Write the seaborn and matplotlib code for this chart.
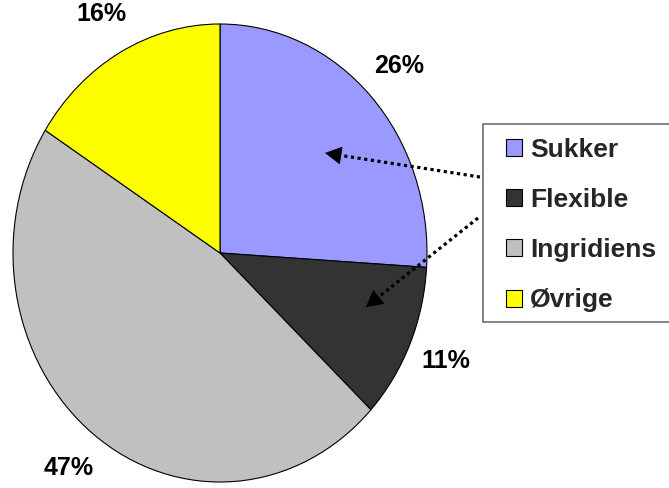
import matplotlib
matplotlib.use("Agg")
import matplotlib.pyplot as plt
from matplotlib.lines import Line2D
from matplotlib.patches import Rectangle
import seaborn as sns

# Share of each category (percent)
categories = ["Sukker", "Flexible", "Ingridiens", "Øvrige"]
shares = [26, 11, 47, 16]
colors = ["#9999FF", "#333333", "#C0C0C0", "#FFFF00"]

sns.set_theme(style="white")
plt.rcParams["font.family"] = ["Liberation Sans", "DejaVu Sans"]
plt.rcParams["font.weight"] = "bold"

W, H = 669, 488
fig = plt.figure(figsize=(W / 100, H / 100), dpi=100)
fig.patch.set_facecolor("white")


def fx(px):
    return px / W


def fy(py):
    return 1 - py / H


# Elliptical pie occupying the left part of the figure
ax = fig.add_axes([fx(13), fy(482), fx(427) - fx(13), fy(24) - fy(482)])
wedges, _, pct_texts = ax.pie(
    shares,
    colors=colors,
    startangle=90,
    counterclock=False,
    autopct=lambda p: f"{p:.0f}%",
    pctdistance=1.19,
    wedgeprops=dict(edgecolor="black", linewidth=0.8),
    textprops=dict(fontsize=18, fontweight="bold", color="black"),
)
ax.set_xlim(-1, 1)
ax.set_ylim(-1, 1)
ax.set_aspect("auto")
ax.axis("off")

# Legend frame (runs off the right edge)
fig.patches.append(
    Rectangle((fx(483), fy(322)), fx(720) - fx(483), fy(124) - fy(322),
              transform=fig.transFigure, facecolor="white",
              edgecolor="#6e6e6e", linewidth=1.2, zorder=0)
)

leg = fig.legend(
    wedges, categories,
    loc="upper left",
    bbox_to_anchor=(fx(506), fy(138)),
    bbox_transform=fig.transFigure,
    frameon=False,
    borderpad=0,
    borderaxespad=0,
    handlelength=0.61,
    handleheight=0.61,
    handletextpad=0.3,
    labelspacing=0.99,
    prop=dict(size=19, weight="bold"),
)

# Dotted pointer arrows from the legend into the pie
pointers = [((480, 177), (325, 153)), ((478, 218), (366, 307))]
for (x0, y0), (x1, y1) in pointers:
    dx, dy = x1 - x0, y1 - y0
    L = (dx * dx + dy * dy) ** 0.5
    bx, by = x1 - dx / L * 12, y1 - dy / L * 12
    fig.add_artist(Line2D([fx(x0), fx(bx)], [fy(y0), fy(by)],
                          transform=fig.transFigure, color="black",
                          linewidth=2.3, linestyle=(0, (1, 1.1))))
    ax.annotate("", xy=(fx(x1), fy(y1)), xycoords="figure fraction",
                xytext=(fx(x1 - dx / L * 16), fy(y1 - dy / L * 16)),
                textcoords="figure fraction",
                arrowprops=dict(arrowstyle="-|>,head_length=0.55,head_width=0.3",
                                mutation_scale=20, color="black", lw=0.5,
                                shrinkA=0, shrinkB=0))

fig.savefig("out.png", dpi=100)
